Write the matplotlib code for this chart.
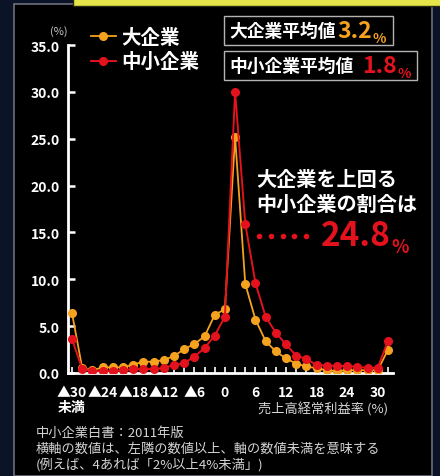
import numpy as np
import matplotlib
matplotlib.use("Agg")
import matplotlib.pyplot as plt
from matplotlib.patches import Rectangle
from matplotlib.lines import Line2D

plt.rcParams['font.family'] = ['Noto Sans CJK JP', 'DejaVu Sans']

# 売上高経常利益率の階級 (%)
x_vals = list(range(-30, 34, 2))
large = [6.35, 0.5, 0.3, 0.6, 0.6, 0.6, 0.9, 1.2, 1.2, 1.4, 1.8, 2.55, 3.1, 3.9, 6.2, 6.8,
         25.2, 9.5, 5.7, 3.4, 2.3, 1.55, 1.0, 0.7, 0.5, 0.3, 0.2, 0.3, 0.3, 0.3, 0.3, 2.45]
small = [3.6, 0.4, 0.2, 0.2, 0.2, 0.3, 0.4, 0.45, 0.4, 0.55, 0.85, 1.05, 1.75, 2.65, 4.0, 6.0,
         30.0, 15.9, 9.6, 6.0, 4.3, 3.05, 1.85, 1.5, 0.85, 0.8, 0.75, 0.75, 0.65, 0.55, 0.55, 3.4]
tick_pos = [-30, -24, -18, -12, -6, 0, 6, 12, 18, 24, 30]
tick_labels = ["▲30\n未満", "▲24", "▲18", "▲12", "▲6", "0", "6", "12", "18", "24", "30"]
y_ticks = [0, 5, 10, 15, 20, 25, 30, 35]

ORANGE = "#f5a21e"
RED = "#e3121c"
W, H = 440, 477


def fx(px):
    return px / W


def fy(py):
    return 1 - py / H


fig = plt.figure(figsize=(4.4, 4.77), dpi=100)
fig.patch.set_facecolor("#0b1327")

# black panel with gray border
fig.add_artist(Rectangle((fx(14), 0), fx(432) - fx(14), fy(5), transform=fig.transFigure,
                         facecolor="black", edgecolor="#6e6f7c", linewidth=1.2, zorder=-3))
# yellow title banner (cut off)
fig.add_artist(Rectangle((fx(73), fy(7)), 1, 0.05, transform=fig.transFigure,
                         facecolor="#e6e64a", edgecolor="#2a2a10", linewidth=1.0, zorder=-2))

ax = fig.add_axes([fx(68), fy(374), fx(393) - fx(68), fy(46) - fy(374)])
ax.set_facecolor("black")
ax.patch.set_alpha(0)

ax.plot(x_vals, large, color=ORANGE, lw=1.3, marker="o", ms=5.5, mec=ORANGE, mfc=ORANGE, label="大企業", zorder=3)
ax.plot(x_vals, small, color=RED, lw=1.4, marker="o", ms=5.5, mec=RED, mfc=RED, label="中小企業", zorder=4)

ax.set_xlim(-30.8, 33)
ax.set_ylim(0, 35)
for s in ["top", "right"]:
    ax.spines[s].set_visible(False)
for s in ["left", "bottom"]:
    ax.spines[s].set_color("white")
    ax.spines[s].set_linewidth(2)

ax.set_yticks(y_ticks)
ax.set_yticklabels([f"{v:.1f}" for v in y_ticks], color="white", fontsize=10, fontweight="bold")
ax.tick_params(axis="y", direction="in", length=5, width=1.8, color="white", pad=6)

ax.set_xticks(tick_pos)
ax.set_xticklabels(tick_labels, color="white", fontsize=10, fontweight="bold", linespacing=1.05)
ax.set_xticks(x_vals, minor=True)
ax.tick_params(axis="x", which="both", direction="in", length=4, width=1.2, color="white", pad=9)

# legend
leg = ax.legend(loc="upper left", bbox_to_anchor=(fx(73), fy(11)), bbox_transform=fig.transFigure,
                frameon=False, handlelength=1.3, handletextpad=0.3, labelspacing=0.3,
                prop={"weight": "bold", "size": 14})
for t in leg.get_texts():
    t.set_color("white")

fig.text(fx(59), fy(32), "(%)", color="#c8c8c8", fontsize=8, ha="center", va="center")
fig.text(fx(388), fy(409), "売上高経常利益率 (%)", color="#d8d8d8", fontsize=9.5, ha="right", va="center")

# average boxes
fig.add_artist(Rectangle((fx(224), fy(46)), fx(393) - fx(224), fy(17) - fy(46), transform=fig.transFigure,
                         facecolor="black", edgecolor="#b4b4b4", linewidth=1.0, zorder=-1))
fig.add_artist(Rectangle((fx(224), fy(81)), fx(417) - fx(224), fy(52) - fy(81), transform=fig.transFigure,
                         facecolor="black", edgecolor="#b4b4b4", linewidth=1.0, zorder=-1))
fig.text(fx(229), fy(32), "大企業平均値", color="white", fontsize=12.8, fontweight="bold", va="center")
fig.text(fx(229), fy(67), "中小企業平均値", color="white", fontsize=12.8, fontweight="bold", va="center")

callouts = [(337, 38, "3.2", ORANGE, 16.5, 10),
            (362, 73, "1.8", RED, 16.5, 10),
            (321, 246, "24.8", RED, 24, 13)]
for x, y, num, color, size, psize in callouts:
    t = fig.text(fx(x), fy(y), num, color=color, fontsize=size, fontweight="bold", va="baseline")
    ax.annotate("%", xy=(1, 0), xycoords=t, xytext=(0.5, 0), textcoords="offset points",
                color=color, fontsize=psize, fontweight="bold", va="baseline", ha="left",
                annotation_clip=False)

# callout
fig.text(fx(256), fy(180), "大企業を上回る", color="white", fontsize=14.5, fontweight="bold", va="center")
fig.text(fx(256), fy(204), "中小企業の割合は", color="white", fontsize=14.5, fontweight="bold", va="center")
fig.add_artist(Line2D([fx(p) for p in np.linspace(259, 306, 5)], [fy(237)] * 5, transform=fig.transFigure,
                      ls="none", marker="o", ms=3, color=RED))

# notes
notes = ["中小企業白書：2011年版",
         "横軸の数値は、左隣の数値以上、軸の数値未満を意味する",
         "(例えば、4あれば「2%以上4%未満」)"]
for i, line in enumerate(notes):
    fig.text(fx(36), fy(433 + 16 * i), line, color="#d4d4d4", fontsize=9.5, va="center")

fig.savefig("out.png", dpi=100, facecolor=fig.get_facecolor())
